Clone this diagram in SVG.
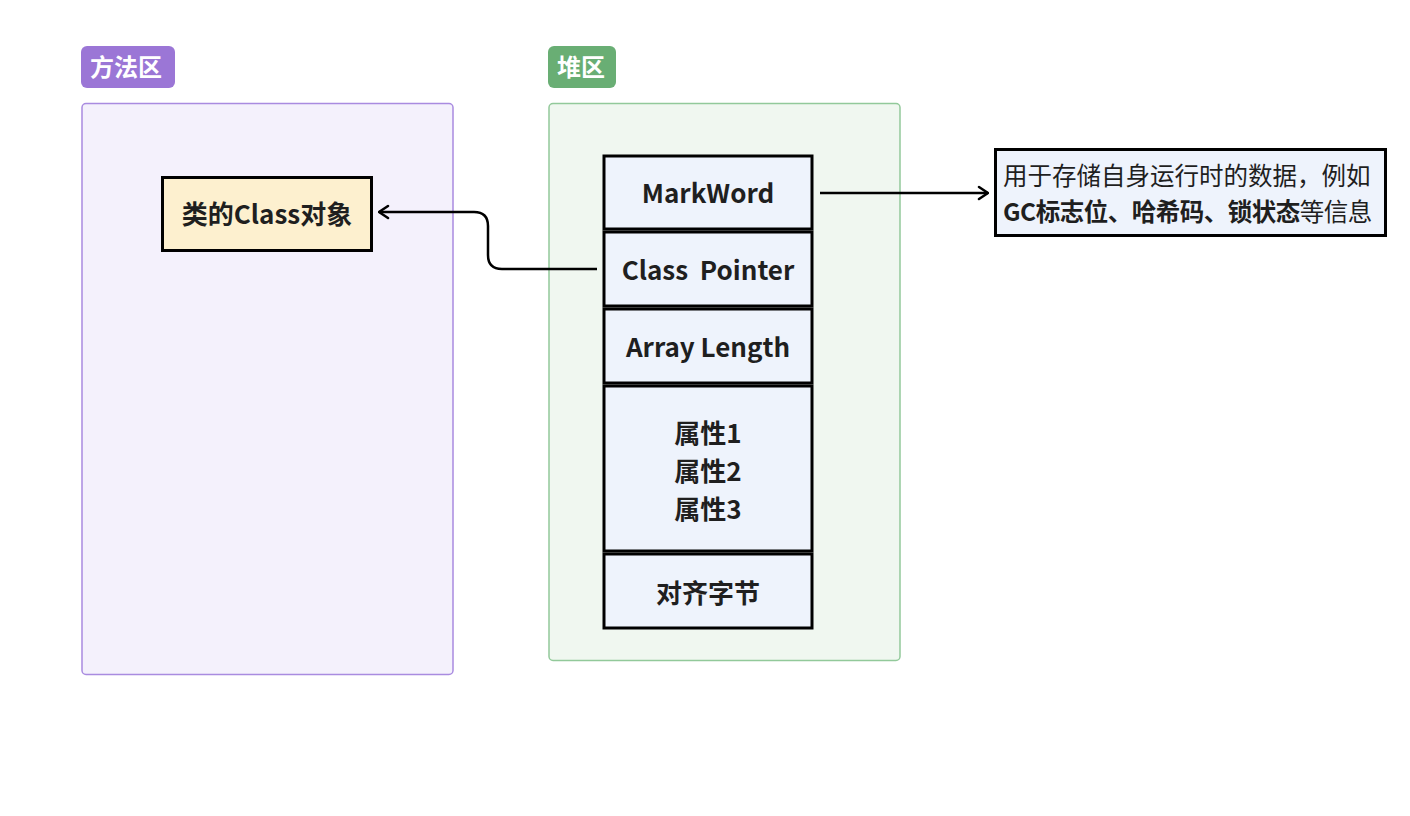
<svg xmlns="http://www.w3.org/2000/svg" width="1410" height="816" viewBox="0 0 1410 816">
<defs>
<style>
text{font-family:"Noto Sans CJK SC","Noto Sans",sans-serif;fill:#1f1f1f}
.b{font-weight:bold}
.cell{fill:#eef3fc;stroke:#000;stroke-width:3}
.lbl{font-size:24px;font-weight:bold;fill:#fff}
.ct{font-size:26px;font-weight:bold;text-anchor:middle}
.conn{fill:none;stroke:#000;stroke-width:2.5}
</style>
<marker id="arr" viewBox="0 0 12 16" refX="11" refY="8" markerWidth="12" markerHeight="16" markerUnits="userSpaceOnUse" orient="auto">
<path d="M2,2 L11,8 L2,14" fill="none" stroke="#000" stroke-width="2.5" stroke-linecap="round" stroke-linejoin="round"/>
</marker>
</defs>
<rect width="1410" height="816" fill="#fff"/>

<g id="method-area">
<rect x="82" y="103.5" width="371" height="571" rx="4" fill="#f4f1fc" stroke="#a98be0" stroke-width="1.5"/>
<rect x="81" y="46" width="94" height="42" rx="6" fill="#9b76d6"/>
<text class="lbl" x="90" y="76">方法区</text>
</g>

<g id="heap-area">
<rect x="549" y="103.5" width="351" height="557" rx="4" fill="#f0f7f0" stroke="#92c99a" stroke-width="1.5"/>
<rect x="548" y="46" width="68" height="42" rx="6" fill="#69ae74"/>
<text class="lbl" x="557" y="76">堆区</text>
</g>

<g id="class-object">
<rect x="162.5" y="177.5" width="209" height="73" fill="#fdf0cf" stroke="#000" stroke-width="3"/>
<text class="ct" x="267" y="224">类的Class对象</text>
</g>

<g id="markword">
<rect class="cell" x="604" y="156" width="208" height="73"/>
<text class="ct" x="708" y="203">MarkWord</text>
</g>
<g id="class-pointer">
<rect class="cell" x="604" y="232" width="208" height="74"/>
<text class="ct" x="708" y="280" xml:space="preserve">Class  Pointer</text>
</g>
<g id="array-length">
<rect class="cell" x="604" y="309" width="208" height="74"/>
<text class="ct" x="708" y="357">Array Length</text>
</g>
<g id="fields">
<rect class="cell" x="604" y="386" width="208" height="165"/>
<text class="ct" x="708" y="443">属性1</text>
<text class="ct" x="708" y="481">属性2</text>
<text class="ct" x="708" y="519">属性3</text>
</g>
<g id="padding">
<rect class="cell" x="604" y="554" width="208" height="74"/>
<text class="ct" x="708" y="603">对齐字节</text>
</g>

<g id="markword-desc">
<rect x="995.5" y="149.5" width="390" height="86" fill="#eef3fc" stroke="#000" stroke-width="3"/>
<text x="1003" y="184.5" font-size="24.5">用于存储自身运行时的数据，例如</text>
<text x="1003" y="220.5" font-size="24.5" letter-spacing="-0.5"><tspan class="b">GC标志位、哈希码、锁状态</tspan>等信息</text>
</g>

<g id="connectors">
<path class="conn" d="M820,193 L988,193" marker-end="url(#arr)"/>
<path class="conn" d="M597,269 L502,269 Q488,269 488,255 L488,226 Q488,212 474,212 L379,212" marker-end="url(#arr)"/>
</g>
</svg>
